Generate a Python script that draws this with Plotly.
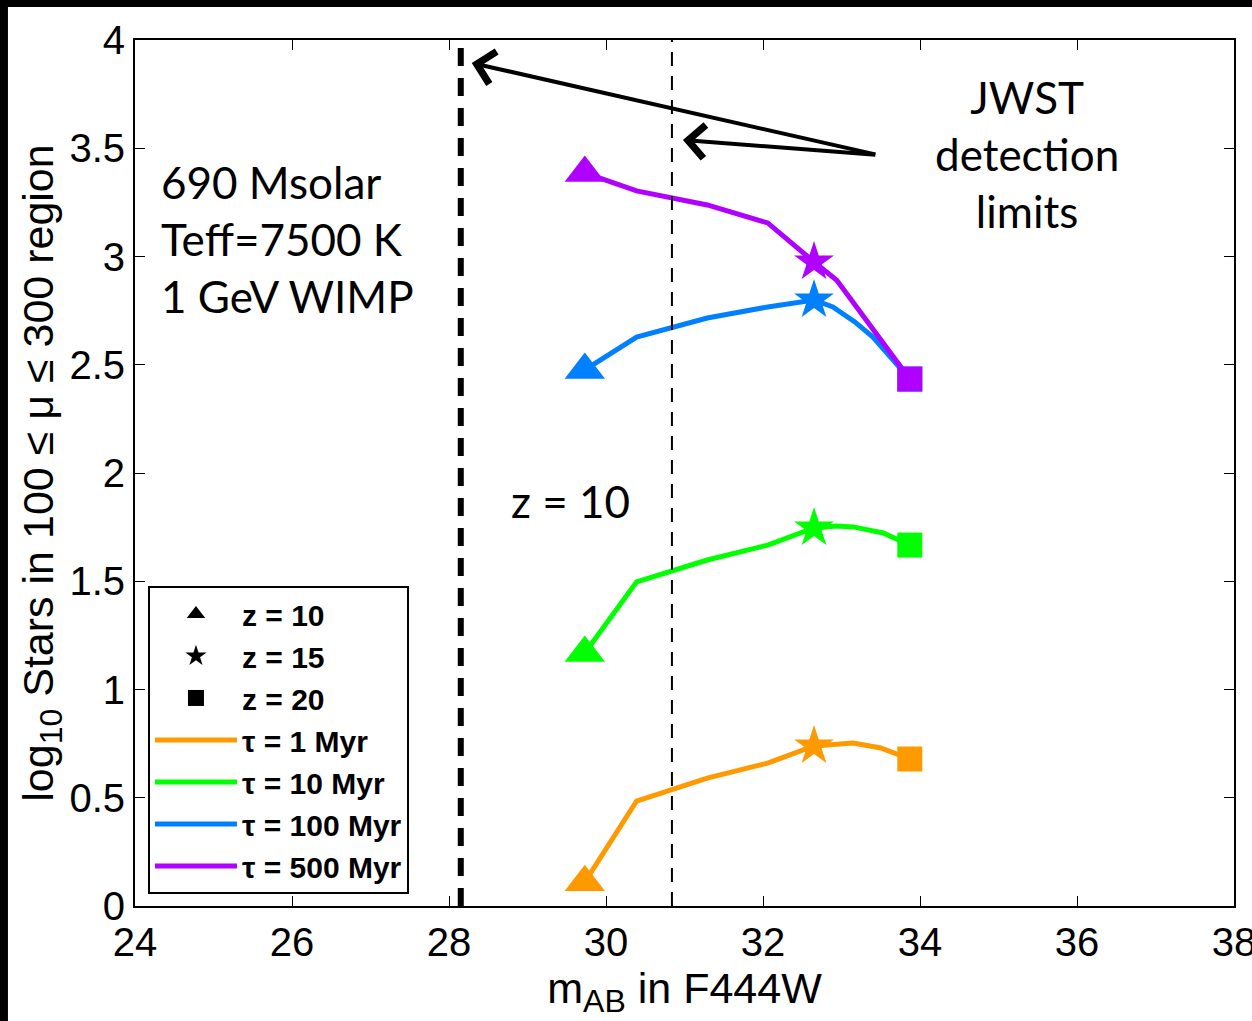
import plotly.graph_objects as go

# ---- data ----
mag_1 = [29.73, 30.39, 31.29, 32.06, 32.65, 32.94, 33.15, 33.50, 33.87]
logn_1 = [0.11, 0.485, 0.591, 0.66, 0.739, 0.748, 0.753, 0.73, 0.679]

mag_10 = [29.73, 30.39, 31.29, 32.06, 32.65, 32.94, 33.15, 33.53, 33.87]
logn_10 = [1.169, 1.497, 1.598, 1.667, 1.746, 1.755, 1.751, 1.723, 1.667]

mag_100 = [29.73, 30.39, 31.29, 32.06, 32.65, 32.89, 33.17, 33.40, 33.87]
logn_100 = [2.476, 2.628, 2.716, 2.767, 2.799, 2.767, 2.698, 2.628, 2.434]

mag_500 = [29.73, 30.39, 31.29, 32.06, 32.65, 32.94, 33.87]
logn_500 = [3.386, 3.303, 3.238, 3.155, 2.975, 2.89, 2.434]

series_names = ["τ = 1 Myr", "τ = 10 Myr", "τ = 100 Myr", "τ = 500 Myr"]
series_colors = ["#FF9900", "#00FF00", "#0080FF", "#B000FF"]
star_index = 4  # index of the z = 15 point in each series

z_labels = ["z = 10", "z = 15", "z = 20"]
z_symbols = ["triangle-up", "star", "square"]

jwst_limits = [28.15, 30.84]  # detection limits (mag)
x_ticks = [24, 26, 28, 30, 32, 34, 36, 38]
y_ticks = [0, 0.5, 1, 1.5, 2, 2.5, 3, 3.5, 4]

mags = [mag_1, mag_10, mag_100, mag_500]
logns = [logn_1, logn_10, logn_100, logn_500]

fig = go.Figure()

# legend entries for redshift symbols
for i, (lab, sym) in enumerate(zip(z_labels, z_symbols)):
    fig.add_trace(go.Scatter(x=[None], y=[None], mode="markers", name=lab,
                             marker=dict(symbol=sym, color="black", size=16, opacity=1),
                             legendrank=i + 1))

# lines
for i, (m, n) in enumerate(zip(mags, logns)):
    fig.add_trace(go.Scatter(x=m, y=n, mode="lines", name=series_names[i],
                             line=dict(color=series_colors[i], width=5),
                             legendrank=10 + i))

# markers: triangle (z=10), star (z=15), square (z=20)
for i, (m, n) in enumerate(zip(mags, logns)):
    idx = [0, star_index, len(m) - 1]
    fig.add_trace(go.Scatter(x=[m[k] for k in idx], y=[n[k] for k in idx],
                             mode="markers", showlegend=False,
                             marker=dict(symbol=z_symbols, size=[35, 30, 25], opacity=1,
                                         color=series_colors[i], line=dict(width=0))))

# JWST detection limit lines
fig.add_shape(type="line", xref="x", yref="paper", x0=jwst_limits[0], x1=jwst_limits[0],
              y0=0, y1=1, line=dict(color="black", width=6, dash="18px,12px"))
fig.add_shape(type="line", xref="x", yref="paper", x0=jwst_limits[1], x1=jwst_limits[1],
              y0=0, y1=1, line=dict(color="black", width=2, dash="14px,10px"))

# black strips at top and left edges
fig.add_shape(type="rect", xref="paper", yref="paper", x0=-0.13, x1=1.02,
              y0=1.0381, y1=1.06, line=dict(width=0), fillcolor="black", layer="above")
fig.add_shape(type="rect", xref="paper", yref="paper", x0=-0.13, x1=-0.1156,
              y0=-0.14, y1=1.06, line=dict(width=0), fillcolor="black", layer="above")

ann_font = dict(family="Lato", size=44, color="black")
fig.add_annotation(x=24.3, y=3.08, xref="x", yref="y", xanchor="left", yanchor="middle",
                   text="690 Msolar<br>Teff=7500 K<br>1 GeV WIMP", showarrow=False,
                   align="left", font=ann_font)
fig.add_annotation(x=29.55, y=1.87, xref="x", yref="y", text="z = 10", showarrow=False,
                   font=ann_font)
fig.add_annotation(x=35.36, y=3.475, xref="x", yref="y", text="JWST<br>detection<br>limits",
                   showarrow=False, align="center", font=ann_font)

# arrows
for tipx, tipy in [(28.29, 3.894), (30.98, 3.538)]:
    fig.add_annotation(x=tipx, y=tipy, ax=33.45, ay=3.47, xref="x", yref="y",
                       axref="x", ayref="y", text="", showarrow=True,
                       arrowhead=4, arrowsize=1.6, arrowwidth=4, arrowcolor="black")

sans = "Liberation Sans, Arial"
tick_font = dict(family=sans, size=40, color="black")
fig.update_xaxes(range=[24, 38], tickvals=x_ticks, ticks="inside", ticklen=10,
                 tickwidth=1, tickcolor="black", showline=True, linecolor="black",
                 linewidth=2, mirror="ticks", showgrid=False, zeroline=False,
                 tickfont=tick_font, ticklabeloverflow="allow", automargin=False,
                 title=dict(text="m<sub><span style='font-size:32px'>AB</span></sub> in F444W",
                            font=dict(family=sans, size=43, color="black"), standoff=0))
fig.update_yaxes(range=[0, 4], tickvals=y_ticks, ticktext=[f"{v:g}" for v in y_ticks],
                 ticks="inside", ticklen=10, tickwidth=1, tickcolor="black",
                 showline=True, linecolor="black", linewidth=2, mirror="ticks",
                 showgrid=False, zeroline=False, tickfont=tick_font,
                 ticklabeloverflow="allow", automargin=False,
                 title=dict(text="log<sub><span style='font-size:32px'>10</span></sub> Stars in 100 ≤ μ ≤ 300 region",
                            font=dict(family=sans, size=43, color="black"), standoff=2))

fig.update_layout(
    width=1252, height=1021,
    margin=dict(l=135, r=18, t=40, b=115, autoexpand=False),
    paper_bgcolor="white", plot_bgcolor="white",
    showlegend=True,
    legend=dict(x=0.0118, y=0.0139, xanchor="left", yanchor="bottom",
                bgcolor="white", bordercolor="black", borderwidth=2,
                font=dict(family=sans, size=30, color="black", weight="bold"),
                itemwidth=82, tracegroupgap=0),
)

fig.write_html("out.html", config={"displayModeBar": False},
               post_script="document.body.style.margin='0px';")
